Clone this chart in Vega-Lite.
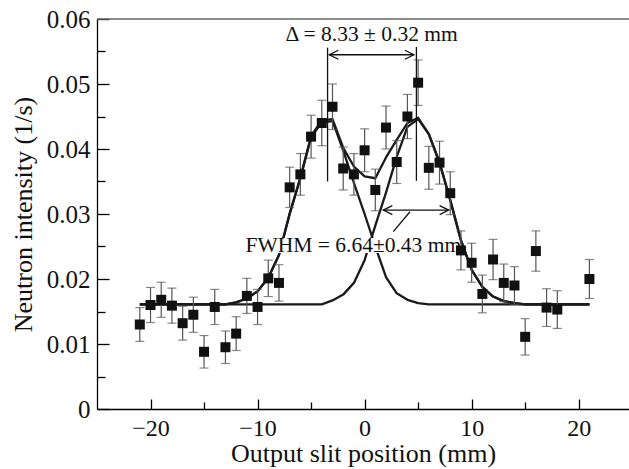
{
  "$schema": "https://vega.github.io/schema/vega-lite/v6.json",
  "autosize": {"type": "none"},
  "padding": {"left": 97, "top": 19, "right": 0, "bottom": 60},
  "width": 532,
  "height": 390,
  "background": "white",
  "config": {
    "view": {"stroke": null},
    "font": "Liberation Serif",
    "axis": {
      "grid": false,
      "domainColor": "#000",
      "domainWidth": 1.3,
      "tickColor": "#000",
      "tickWidth": 1.3,
      "labelFont": "Liberation Serif",
      "labelFontSize": 24,
      "labelColor": "#111",
      "labelFlush": false,
      "labelOverlap": false,
      "labelBound": false,
      "titleFont": "Liberation Serif",
      "titleFontSize": 26,
      "titleFontWeight": "normal",
      "titleColor": "#111"
    }
  },
  "resolve": {"axis": {"x": "independent", "y": "independent"}},
  "datasets": {
    "points": [
      {"x": -21, "y": 0.0130, "err": 0.0026},
      {"x": -20, "y": 0.0160, "err": 0.0027},
      {"x": -19, "y": 0.0168, "err": 0.0027},
      {"x": -18, "y": 0.0159, "err": 0.0027},
      {"x": -17, "y": 0.0132, "err": 0.0026},
      {"x": -16, "y": 0.0145, "err": 0.0027},
      {"x": -15, "y": 0.0088, "err": 0.0025},
      {"x": -14, "y": 0.0157, "err": 0.0027},
      {"x": -13, "y": 0.0095, "err": 0.0025},
      {"x": -12, "y": 0.0116, "err": 0.0026},
      {"x": -11, "y": 0.0174, "err": 0.0027},
      {"x": -10, "y": 0.0157, "err": 0.0027},
      {"x": -9, "y": 0.0201, "err": 0.0028},
      {"x": -8, "y": 0.0194, "err": 0.0028},
      {"x": -7, "y": 0.0341, "err": 0.0031},
      {"x": -6, "y": 0.0361, "err": 0.0032},
      {"x": -5, "y": 0.0419, "err": 0.0033},
      {"x": -4, "y": 0.0440, "err": 0.0035},
      {"x": -3, "y": 0.0465, "err": 0.0035},
      {"x": -2, "y": 0.0370, "err": 0.0033},
      {"x": -1, "y": 0.0361, "err": 0.0032},
      {"x": 0, "y": 0.0398, "err": 0.0033},
      {"x": 1, "y": 0.0337, "err": 0.0032},
      {"x": 2, "y": 0.0433, "err": 0.0033},
      {"x": 3, "y": 0.0380, "err": 0.0033},
      {"x": 4, "y": 0.0450, "err": 0.0034},
      {"x": 5, "y": 0.0502, "err": 0.0035},
      {"x": 6, "y": 0.0371, "err": 0.0033},
      {"x": 7, "y": 0.0379, "err": 0.0033},
      {"x": 8, "y": 0.0332, "err": 0.0033},
      {"x": 9, "y": 0.0244, "err": 0.0030},
      {"x": 10, "y": 0.0225, "err": 0.0030},
      {"x": 11, "y": 0.0177, "err": 0.0029},
      {"x": 12, "y": 0.0230, "err": 0.0031},
      {"x": 13, "y": 0.0194, "err": 0.0029},
      {"x": 14, "y": 0.0190, "err": 0.0029},
      {"x": 15, "y": 0.0111, "err": 0.0028},
      {"x": 16, "y": 0.0243, "err": 0.0031},
      {"x": 17, "y": 0.0156, "err": 0.0029},
      {"x": 18, "y": 0.0153, "err": 0.0029},
      {"x": 21, "y": 0.0200, "err": 0.0030}
    ],
    "curves": [
      {"curve": "L", "x": -21, "y": 0.0161},
      {"curve": "L", "x": -13, "y": 0.0161},
      {"curve": "L", "x": -12, "y": 0.0164},
      {"curve": "L", "x": -11, "y": 0.0170},
      {"curve": "L", "x": -10, "y": 0.0181},
      {"curve": "L", "x": -9, "y": 0.0202},
      {"curve": "L", "x": -8, "y": 0.0237},
      {"curve": "L", "x": -7, "y": 0.0300},
      {"curve": "L", "x": -6, "y": 0.0355},
      {"curve": "L", "x": -5, "y": 0.0418},
      {"curve": "L", "x": -4, "y": 0.0441},
      {"curve": "L", "x": -3, "y": 0.0443},
      {"curve": "L", "x": -2, "y": 0.0398},
      {"curve": "L", "x": -1, "y": 0.0348},
      {"curve": "L", "x": 0, "y": 0.0300},
      {"curve": "L", "x": 1, "y": 0.0250},
      {"curve": "L", "x": 2, "y": 0.0203},
      {"curve": "L", "x": 3, "y": 0.0178},
      {"curve": "L", "x": 4, "y": 0.0168},
      {"curve": "L", "x": 5, "y": 0.0163},
      {"curve": "L", "x": 6, "y": 0.0161},
      {"curve": "L", "x": 21, "y": 0.0161},
      {"curve": "R", "x": -21, "y": 0.0161},
      {"curve": "R", "x": -4, "y": 0.0161},
      {"curve": "R", "x": -3, "y": 0.0167},
      {"curve": "R", "x": -2, "y": 0.0176},
      {"curve": "R", "x": -1, "y": 0.0194},
      {"curve": "R", "x": 0, "y": 0.0229},
      {"curve": "R", "x": 1, "y": 0.0282},
      {"curve": "R", "x": 2, "y": 0.0333},
      {"curve": "R", "x": 3, "y": 0.0388},
      {"curve": "R", "x": 4, "y": 0.0434},
      {"curve": "R", "x": 5, "y": 0.0446},
      {"curve": "R", "x": 6, "y": 0.0423},
      {"curve": "R", "x": 7, "y": 0.0378},
      {"curve": "R", "x": 8, "y": 0.0321},
      {"curve": "R", "x": 9, "y": 0.0259},
      {"curve": "R", "x": 10, "y": 0.0214},
      {"curve": "R", "x": 11, "y": 0.0188},
      {"curve": "R", "x": 12, "y": 0.0173},
      {"curve": "R", "x": 13, "y": 0.0166},
      {"curve": "R", "x": 14, "y": 0.0163},
      {"curve": "R", "x": 15, "y": 0.0161},
      {"curve": "R", "x": 21, "y": 0.0161},
      {"curve": "S", "x": -21, "y": 0.0161},
      {"curve": "S", "x": -13, "y": 0.0161},
      {"curve": "S", "x": -12, "y": 0.0164},
      {"curve": "S", "x": -11, "y": 0.0170},
      {"curve": "S", "x": -10, "y": 0.0181},
      {"curve": "S", "x": -9, "y": 0.0202},
      {"curve": "S", "x": -8, "y": 0.0237},
      {"curve": "S", "x": -7, "y": 0.0301},
      {"curve": "S", "x": -6, "y": 0.0356},
      {"curve": "S", "x": -5, "y": 0.0420},
      {"curve": "S", "x": -4, "y": 0.0444},
      {"curve": "S", "x": -3, "y": 0.0446},
      {"curve": "S", "x": -2, "y": 0.0402},
      {"curve": "S", "x": -1, "y": 0.0373},
      {"curve": "S", "x": 0, "y": 0.0358},
      {"curve": "S", "x": 1, "y": 0.0355},
      {"curve": "S", "x": 2, "y": 0.0387},
      {"curve": "S", "x": 3, "y": 0.0414},
      {"curve": "S", "x": 4, "y": 0.0440},
      {"curve": "S", "x": 5, "y": 0.0448},
      {"curve": "S", "x": 6, "y": 0.0423},
      {"curve": "S", "x": 7, "y": 0.0380},
      {"curve": "S", "x": 8, "y": 0.0322},
      {"curve": "S", "x": 9, "y": 0.0260},
      {"curve": "S", "x": 10, "y": 0.0214},
      {"curve": "S", "x": 11, "y": 0.0188},
      {"curve": "S", "x": 12, "y": 0.0173},
      {"curve": "S", "x": 13, "y": 0.0166},
      {"curve": "S", "x": 14, "y": 0.0163},
      {"curve": "S", "x": 15, "y": 0.0161},
      {"curve": "S", "x": 21, "y": 0.0161}
    ],
    "segs": [
      {"x": -3.46, "x2": -3.46, "y": 0.0350, "y2": 0.0556},
      {"x": 4.84, "x2": 4.84, "y": 0.0351, "y2": 0.0557},
      {"x": -3.3, "x2": 4.6, "y": 0.0545, "y2": 0.0545},
      {"x": 1.75, "x2": 7.85, "y": 0.0306, "y2": 0.0306},
      {"x": 4.24, "x2": 2.68, "y": 0.03035, "y2": 0.02728}
    ],
    "heads": [
      {"x": -3.3, "y": 0.0545, "dir": "left"},
      {"x": 4.6, "y": 0.0545, "dir": "right"},
      {"x": 1.75, "y": 0.0306, "dir": "left"},
      {"x": 7.85, "y": 0.0306, "dir": "right"}
    ],
    "box": [
      {"x": -10.45, "x2": 8.35, "y": 0.0240, "y2": 0.0263}
    ],
    "frame": [
      {"y": 0.06}
    ],
    "labels": [
      {"x": 0.66, "y": 0.05666, "text": "Δ = 8.33 ± 0.32 mm"},
      {"x": -1.05, "y": 0.0242, "text": "FWHM = 6.64±0.43 mm"}
    ]
  },
  "layer": [
    {
      "data": {"name": "frame"},
      "mark": {"type": "rule", "color": "#666", "strokeWidth": 1.5},
      "encoding": {
        "y": {"field": "y", "type": "quantitative", "scale": {"domain": [0, 0.06], "nice": false, "zero": false}, "axis": null}
      }
    },
    {
      "data": {"name": "curves"},
      "mark": {"type": "line", "color": "#1a1a1a", "strokeWidth": 2.3, "strokeJoin": "round"},
      "encoding": {
        "x": {
          "field": "x", "type": "quantitative",
          "scale": {"domain": [-25, 24.7], "nice": false, "zero": false},
          "axis": {
            "orient": "bottom",
            "title": "Output slit position  (mm)",
            "values": [-20, -10, 0, 10, 20],
            "tickSize": -10,
            "labelPadding": 17,
            "titlePadding": 0
          }
        },
        "y": {
          "field": "y", "type": "quantitative",
          "scale": {"domain": [0, 0.06], "nice": false, "zero": false},
          "axis": {
            "orient": "left",
            "title": "Neutron intensity  (1/s)",
            "values": [0, 0.01, 0.02, 0.03, 0.04, 0.05, 0.06],
            "labelExpr": "datum.value == 0 ? '0' : format(datum.value, '.2f')",
            "labelFontSize": 25,
            "tickSize": -12,
            "labelPadding": 19,
            "titlePadding": 10
          }
        },
        "detail": {"field": "curve"}
      }
    },
    {
      "data": {"name": "box"},
      "mark": {"type": "rect", "color": "white"},
      "encoding": {
        "x": {
          "field": "x", "type": "quantitative",
          "axis": {"orient": "bottom", "values": [-15, -5, 5, 15], "labels": false, "domain": false, "tickSize": -7, "title": null}
        },
        "x2": {"field": "x2"},
        "y": {
          "field": "y", "type": "quantitative",
          "axis": {"orient": "left", "values": [0.005, 0.015, 0.025, 0.035, 0.045, 0.055], "labels": false, "domain": false, "tickSize": -8, "title": null}
        },
        "y2": {"field": "y2"}
      }
    },
    {
      "data": {"name": "points"},
      "mark": {"type": "errorbar", "ticks": true, "color": "#555", "thickness": 1.2, "size": 9},
      "encoding": {
        "x": {"field": "x", "type": "quantitative", "axis": null},
        "y": {"field": "y", "type": "quantitative", "axis": null},
        "yError": {"field": "err"}
      }
    },
    {
      "data": {"name": "points"},
      "mark": {"type": "point", "shape": "square", "filled": true, "size": 100, "color": "#111", "opacity": 1},
      "encoding": {
        "x": {"field": "x", "type": "quantitative", "axis": null},
        "y": {"field": "y", "type": "quantitative", "axis": null}
      }
    },
    {
      "data": {"name": "segs"},
      "mark": {"type": "rule", "color": "#111", "strokeWidth": 1.3},
      "encoding": {
        "x": {"field": "x", "type": "quantitative", "axis": null},
        "x2": {"field": "x2"},
        "y": {"field": "y", "type": "quantitative", "axis": null},
        "y2": {"field": "y2"}
      }
    },
    {
      "data": {"name": "heads"},
      "mark": {"type": "point", "filled": false, "size": 100, "color": "#111", "strokeWidth": 1.3, "opacity": 1},
      "encoding": {
        "x": {"field": "x", "type": "quantitative", "axis": null},
        "y": {"field": "y", "type": "quantitative", "axis": null},
        "shape": {
          "field": "dir", "type": "nominal", "legend": null,
          "scale": {"domain": ["left", "right"], "range": ["M1.8,-0.9L0,0L1.8,0.9", "M-1.8,-0.9L0,0L-1.8,0.9"]}
        }
      }
    },
    {
      "data": {"name": "labels"},
      "mark": {"type": "text", "font": "Liberation Serif", "fontSize": 21.5, "color": "#111", "align": "center", "baseline": "alphabetic"},
      "encoding": {
        "x": {"field": "x", "type": "quantitative", "axis": null},
        "y": {"field": "y", "type": "quantitative", "axis": null},
        "text": {"field": "text"}
      }
    }
  ]
}
